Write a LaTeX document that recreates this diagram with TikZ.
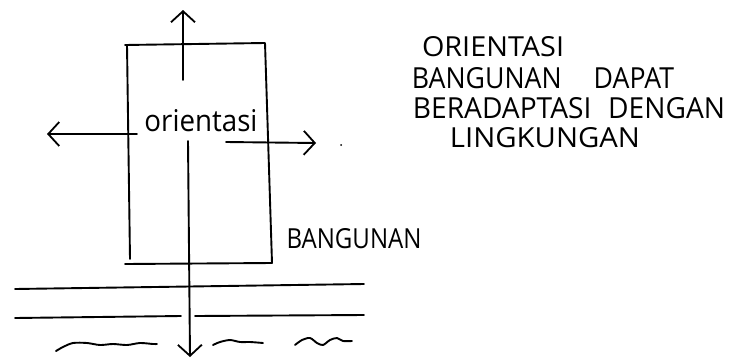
\documentclass[tikz,border=0pt]{standalone}
\usepackage{fontspec}
\setmainfont{Open Sans}
\usetikzlibrary{arrows.meta}
\newcommand\fitbox[3]{\resizebox{#1pt}{#2pt}{#3}}
\tikzset{
  ink/.style={line width=1.9pt, line cap=round, line join=round, black},
  barb/.style={-{Straight Barb[length=11pt,width=24pt,line width=1.8pt]}},
  txt/.style={inner sep=0pt, anchor=center, text=black},
}
\begin{document}
\begin{tikzpicture}[x=1pt,y=-1pt]
\useasboundingbox (0,0) rectangle (730,362);
% building outline
\coordinate (tl) at (125,45);
\coordinate (tl2) at (127,45);
\coordinate (tr) at (265,43);
\coordinate (bl) at (130,259);
\coordinate (br) at (272,263);
\coordinate (bbl) at (125,264);
\draw[ink] (tl) -- (tr) -- (br);
\draw[ink] (tl2) -- (bl);
\draw[ink] (bbl) -- (br);
% orientation label
\node[txt] (ori) at (201,121) {\fitbox{113}{22}{orientasi}};
% arrows
\coordinate (upS) at (183,80);
\coordinate (upE) at (183,10);
\draw[ink,barb] (upS) -- (upE);
\coordinate (lS) at (137,134);
\coordinate (lE) at (47,134);
\draw[ink,barb] (lS) -- (lE);
\coordinate (rS) at (226,142);
\coordinate (rE) at (316,143);
\draw[ink,barb] (rS) -- (rE);
\coordinate (dS) at (188,141);
\coordinate (dE) at (190,357);
\draw[ink,barb] (dS) -- (dE);
\fill (341,145) circle (1);
% ground lines
\coordinate (g1a) at (15,289);
\coordinate (g1b) at (364,284);
\draw[ink] (g1a) -- (g1b);
\coordinate (g2a) at (15,318);
\coordinate (g2b) at (181,316);
\coordinate (g2c) at (195,316);
\coordinate (g2d) at (364,315);
\draw[ink] (g2a) -- (g2b);
\draw[ink] (g2c) -- (g2d);
% waves
\draw[ink] plot[smooth] coordinates {(56,351) (63,347) (73,343) (87,343) (100,345) (113,344) (127,345) (140,343) (153,344) (157,344)};
\draw[ink] plot[smooth] coordinates {(213,345) (220,342) (230,340) (240,342) (250,342) (263,343)};
\draw[ink] plot[smooth] coordinates {(295,345) (302,340) (310,338) (317,343) (323,345) (330,340) (337,338) (343,341) (352,341)};
% labels
\node[txt] (bang) at (354,239) {\fitbox{135}{20}{BANGUNAN}};
\node[txt] (t1) at (493,47) {\fitbox{142}{20}{ORIENTASI}};
\node[txt] (t2) at (543,78) {\fitbox{262}{21}{BANGUNAN\hspace{1.2em}DAPAT}};
\node[txt] (t3) at (569,108) {\fitbox{312}{21}{BERADAPTASI\hspace{0.6em}DENGAN}};
\node[txt] (t4) at (545,138) {\fitbox{190}{20}{LINGKUNGAN}};
\end{tikzpicture}
\end{document}
